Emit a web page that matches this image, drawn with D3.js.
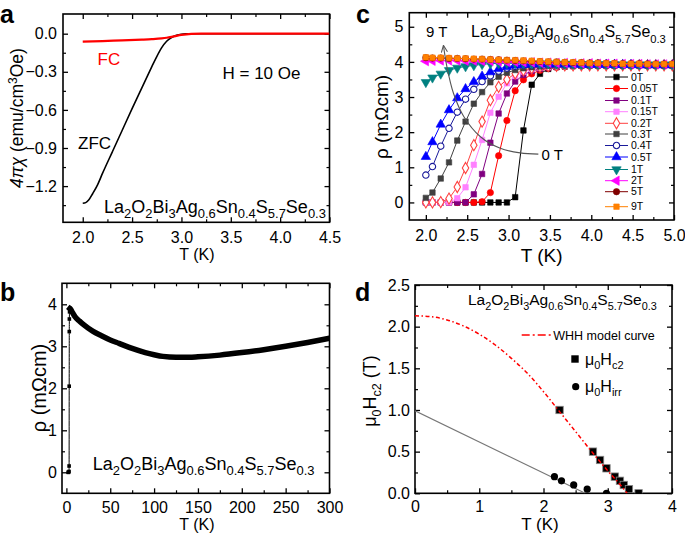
<!DOCTYPE html>
<html><head><meta charset="utf-8">
<script src="https://cdnjs.cloudflare.com/ajax/libs/d3/7.8.5/d3.min.js"></script>
<style>body{margin:0;background:#fff}svg{display:block}text{font-family:"Liberation Sans",Arial,sans-serif}</style>
</head><body><svg id="fig" width="685" height="537"></svg>
<script>
// ---------------- DATA ----------------
// panel a
const aZfcT   = [2.0,2.03,2.06,2.1,2.15,2.2,2.3,2.4,2.5,2.6,2.7,2.75,2.8,2.85,2.9,2.95,3.0,3.05,3.1,3.2,3.5,4.0,4.5];
const aZfcChi = [-1.335,-1.33,-1.31,-1.26,-1.19,-1.1,-0.93,-0.76,-0.59,-0.425,-0.26,-0.18,-0.11,-0.06,-0.03,-0.012,-0.004,-0.001,0,0,0,0,0];
const aFcT    = [2.0,2.2,2.4,2.6,2.7,2.8,2.85,2.9,2.95,3.0,3.05,3.1,3.2,3.3,3.5,4.0,4.5];
const aFcChi  = [-0.063,-0.058,-0.053,-0.047,-0.043,-0.037,-0.032,-0.025,-0.017,-0.01,-0.005,-0.002,0,0,0,0,0];
const aXTicks = [2.0,2.5,3.0,3.5,4.0,4.5];
const aXMinor = [2.25,2.75,3.25,3.75,4.25];
const aYTicks = [0,-0.3,-0.6,-0.9,-1.2];
const aYMinor = [-0.15,-0.45,-0.75,-1.05,-1.35];
// panel b
const bT    = [4,5,7,10,15,20,30,40,50,60,75,90,100,110,125,140,150,175,200,225,250,275,300];
const bRho  = [3.9,3.88,3.8,3.7,3.6,3.51,3.36,3.25,3.15,3.07,2.95,2.85,2.8,2.76,2.74,2.74,2.75,2.79,2.85,2.92,3.0,3.09,3.19];
const bTcT  = [2.0,2.5,3.0,3.1,3.2,3.3,3.4,3.6,4.0];
const bTcRho= [0,0,0.02,0.15,2.05,3.35,3.65,3.82,3.9];
const bXTicks = [0,50,100,150,200,250,300];
const bXMinor = [25,75,125,175,225,275];
const bYTicks = [0,1,2,3,4];
const bYMinor = [0.5,1.5,2.5,3.5];
// panel c
const cT = [2.0,2.08,2.18,2.28,2.38,2.48,2.58,2.68,2.78,2.88,2.98,3.08,3.18,3.28,3.38,3.48,3.58,3.68,3.78,3.88,3.98,4.08,4.18,4.28,4.38,4.48,4.58,4.68,4.78,4.88,4.98];
const cRho0T   = [0,0,0,0,0,0,0,0,0,0,0,0.15,2.05,3.35,3.66,3.8,3.85,3.87,3.88,3.89,3.9,3.9,3.9,3.9,3.9,3.9,3.9,3.9,3.9,3.9,3.9];
const cRho005T = [0,0,0,0,0,0,0,0.02,0.28,1.33,2.33,3.18,3.49,3.66,3.76,3.82,3.85,3.87,3.88,3.89,3.9,3.9,3.9,3.9,3.9,3.9,3.9,3.9,3.9,3.9,3.9];
const cRho01T  = [0,0,0,0,0,0,0.23,0.81,1.7,2.53,3.1,3.44,3.63,3.74,3.8,3.84,3.86,3.88,3.89,3.9,3.9,3.9,3.9,3.9,3.9,3.9,3.9,3.9,3.9,3.9,3.9];
const cRho015T = [0,0,0,0,0.12,0.43,1.07,1.78,2.55,3.01,3.39,3.6,3.72,3.79,3.84,3.86,3.88,3.89,3.9,3.9,3.9,3.9,3.9,3.9,3.9,3.9,3.9,3.9,3.9,3.9,3.9];
const cRho02T  = [0,0,0.01,0.11,0.44,0.98,1.63,2.3,2.91,3.29,3.5,3.67,3.76,3.82,3.86,3.88,3.89,3.9,3.9,3.9,3.9,3.9,3.9,3.9,3.9,3.9,3.9,3.9,3.9,3.9,3.9];
const cRho03T  = [0.13,0.28,0.68,1.14,1.76,2.3,2.81,3.14,3.42,3.58,3.69,3.77,3.82,3.85,3.87,3.89,3.9,3.9,3.9,3.9,3.9,3.9,3.9,3.9,3.9,3.9,3.9,3.9,3.9,3.9,3.9];
const cRho04T  = [0.78,1.02,1.6,2.11,2.57,2.94,3.22,3.44,3.6,3.74,3.82,3.87,3.9,3.91,3.92,3.92,3.92,3.92,3.92,3.92,3.92,3.92,3.92,3.91,3.91,3.91,3.91,3.91,3.91,3.91,3.91];
const cRho05T  = [1.3,1.72,2.22,2.63,2.97,3.23,3.43,3.59,3.71,3.8,3.86,3.9,3.92,3.93,3.93,3.93,3.93,3.93,3.93,3.92,3.92,3.92,3.92,3.92,3.92,3.92,3.91,3.91,3.91,3.91,3.91];
const cRho1T   = [3.42,3.55,3.66,3.76,3.83,3.87,3.9,3.93,3.95,3.96,3.96,3.96,3.96,3.95,3.95,3.95,3.94,3.94,3.94,3.93,3.93,3.93,3.93,3.93,3.92,3.92,3.92,3.92,3.92,3.92,3.92];
const cRho2T   = [4.02,4.03,4.04,4.04,4.04,4.03,4.03,4.02,4.02,4.01,4.0,4.0,3.99,3.99,3.98,3.98,3.97,3.97,3.96,3.96,3.96,3.95,3.95,3.95,3.94,3.94,3.94,3.93,3.93,3.93,3.93];
const cRho5T   = [4.12,4.11,4.11,4.1,4.1,4.09,4.08,4.08,4.07,4.06,4.05,4.04,4.03,4.02,4.01,4.0,4.0,3.99,3.98,3.98,3.97,3.97,3.96,3.96,3.95,3.95,3.95,3.94,3.94,3.94,3.94];
const cRho9T   = [4.13,4.12,4.12,4.11,4.1,4.1,4.09,4.08,4.07,4.06,4.05,4.05,4.04,4.03,4.02,4.01,4.0,3.99,3.99,3.98,3.97,3.97,3.96,3.96,3.95,3.95,3.95,3.94,3.94,3.94,3.94];
const cLabels = ["0T","0.05T","0.1T","0.15T","0.2T","0.3T","0.4T","0.5T","1T","2T","5T","9T"];
const cArrowT   = [3.36,3.14,2.9,2.66,2.46,2.335,2.255,2.214];
const cArrowRho = [1.375,1.41,1.54,1.87,2.44,3.1,3.86,4.45];
const cXTicks = [2.0,2.5,3.0,3.5,4.0,4.5,5.0];
const cXMinor = [2.25,2.75,3.25,3.75,4.25,4.75];
const cYTicks = [0,1,2,3,4,5];
const cYMinor = [0.5,1.5,2.5,3.5,4.5];
// panel d
const dWhhT  = [0,0.25,0.5,0.75,1.0,1.25,1.5,1.75,2.0,2.25,2.5,2.75,3.0,3.25,3.3];
const dWhhH  = [2.13,2.12,2.08,2.01,1.91,1.78,1.62,1.44,1.22,0.98,0.74,0.5,0.27,0.05,0];
const dHc2T  = [2.25,2.77,2.88,2.98,3.11,3.19,3.25,3.33,3.48];
const dHc2H  = [1.0,0.5,0.4,0.3,0.2,0.15,0.1,0.05,0];
const dHirrT = [2.17,2.28,2.47,2.68,2.98];
const dHirrH = [0.2,0.15,0.1,0.05,0];
const dFitT  = [0,2.65];
const dFitH  = [0.99,0];
const dXTicks = [0,1,2,3,4];
const dXMinor = [0.5,1.5,2.5,3.5];
const dYTicks = [0,0.5,1.0,1.5,2.0,2.5];
const dYMinor = [0.25,0.75,1.25,1.75,2.25];
// formula text
const formulaParts = [["La",0],["2",1],["O",0],["2",1],["Bi",0],["3",1],["Ag",0],["0.6",1],["Sn",0],["0.4",1],["S",0],["5.7",1],["Se",0],["0.3",1]];

// ---------------- DRAWING ----------------
const svg = d3.select("#fig");
svg.append("rect").attr("width",685).attr("height",537).attr("fill","#fff");

function panel(c){
  const x = d3.scaleLinear().domain(c.xd).range(c.xr);
  const y = d3.scaleLinear().domain(c.yd).range(c.yr);
  const g = svg.append("g");
  const axes = [
    [d3.axisBottom(x), c.xt, `translate(0,${c.yr[0]})`, true, c.xf, c.xpad],
    [d3.axisTop(x),    c.xt, `translate(0,${c.yr[1]})`, false],
    [d3.axisLeft(y),   c.yt, `translate(${c.xr[0]},0)`, true, c.yf, c.ypad],
    [d3.axisRight(y),  c.yt, `translate(${c.xr[1]},0)`, false]
  ];
  axes.forEach(([ax, maj, tr, lab, fmt, pad])=>{
    const ag = g.append("g").attr("transform",tr)
      .call(ax.tickValues(maj).tickSize(-5).tickSizeOuter(0).tickPadding(pad||4)
        .tickFormat(lab ? fmt : ()=>""));
    ag.select(".domain").remove();
    ag.selectAll("line").attr("stroke","#000").attr("stroke-width",1.3);
    ag.selectAll("text").attr("font-size",16).attr("font-family","Liberation Sans, Arial, sans-serif").attr("fill","#000");
  });
  [[d3.axisBottom(x), c.xm, `translate(0,${c.yr[0]})`],
   [d3.axisTop(x), c.xm, `translate(0,${c.yr[1]})`],
   [d3.axisLeft(y), c.ym, `translate(${c.xr[0]},0)`],
   [d3.axisRight(y), c.ym, `translate(${c.xr[1]},0)`]].forEach(([ax, vals, tr])=>{
    const ag = g.append("g").attr("transform",tr)
      .call(ax.tickValues(vals).tickSize(-3).tickSizeOuter(0).tickFormat(()=>""));
    ag.select(".domain").remove();
    ag.selectAll("line").attr("stroke","#000").attr("stroke-width",1.2);
  });
  g.append("rect").attr("x",c.xr[0]).attr("y",c.yr[1])
    .attr("width",c.xr[1]-c.xr[0]).attr("height",c.yr[0]-c.yr[1])
    .attr("fill","none").attr("stroke","#000").attr("stroke-width",1.6);
  const clipId = "clip"+c.id;
  svg.append("clipPath").attr("id",clipId).append("rect")
    .attr("x",c.xr[0]).attr("y",c.yr[1]).attr("width",c.xr[1]-c.xr[0]).attr("height",c.yr[0]-c.yr[1]);
  const plot = svg.append("g").attr("clip-path",`url(#${clipId})`);
  return {x,y,g,plot};
}

function formula(x, y, size, sub, shift){
  const t = svg.append("text").attr("x",x).attr("y",y).attr("font-size",size).attr("fill","#000");
  let down=false; const s = size*shift;
  formulaParts.forEach(([str,isSub])=>{
    const ts = t.append("tspan").text(str);
    if(isSub){ ts.attr("font-size",size*sub); if(!down){ts.attr("dy",s); down=true;} }
    else if(down){ ts.attr("dy",-s); down=false; }
  });
  return t;
}
function label(x,y,txt,size,opts={}){
  const t = svg.append("text").attr("x",x).attr("y",y).attr("font-size",size).attr("fill",opts.fill||"#000").text(txt);
  if(opts.anchor) t.attr("text-anchor",opts.anchor);
  if(opts.bold) t.attr("font-weight","bold");
  return t;
}
const f1 = d3.format(".1f");

// ===== Panel a =====
const A = panel({id:"a", xd:[1.8,4.5], xr:[63,329.5], yd:[-1.485,0.155], yr:[222.3,14],
  xt:aXTicks, xm:aXMinor, yt:aYTicks, ym:aYMinor, xf:f1, yf:f1, xpad:9, ypad:6});
const lineA = d3.line().x(d=>A.x(d[0])).y(d=>A.y(d[1])).curve(d3.curveMonotoneX);
A.plot.append("path").attr("d",lineA(d3.zip(aZfcT,aZfcChi))).attr("fill","none").attr("stroke","#000").attr("stroke-width",1.6);
A.plot.append("path").attr("d",lineA(d3.zip(aFcT,aFcChi))).attr("fill","none").attr("stroke","#ff0000").attr("stroke-width",2.2);
label(97.5,65,"FC",17,{fill:"#ff0000"});
label(222.5,79,"H = 10 Oe",17);
label(78,149,"ZFC",17);
formula(104,213,18,0.72,0.3);
label(197,260,"T (K)",16,{anchor:"middle"});
{
  const t = svg.append("text").attr("transform","translate(23,118) rotate(-90)").attr("text-anchor","middle").attr("font-size",17.5);
  t.append("tspan").attr("font-style","italic").text("4πχ");
  t.append("tspan").text(" (emu/cm");
  t.append("tspan").attr("font-size",12).attr("dy",-6.5).text("3");
  t.append("tspan").attr("dy",6.5).text("Oe)");
}
label(0,23,"a",25,{bold:true});

// ===== Panel b =====
const B = panel({id:"b", xd:[-5,300], xr:[62,329.5], yd:[-0.5,4.5], yr:[493.3,283.3],
  xt:bXTicks, xm:bXMinor, yt:bYTicks, ym:bYMinor, xf:d3.format("d"), yf:d3.format("d"), xpad:8, ypad:5});
const lineB = d3.line().x(d=>B.x(d[0])).y(d=>B.y(d[1])).curve(d3.curveMonotoneX);
B.plot.append("path").attr("d",lineB(d3.zip(bTcT,bTcRho))).attr("fill","none").attr("stroke","#000").attr("stroke-width",1);
B.plot.selectAll("rect.sq").data(d3.zip(bTcT,bTcRho)).join("rect")
  .attr("x",d=>B.x(d[0])-1.8).attr("y",d=>B.y(d[1])-1.8).attr("width",3.6).attr("height",3.6).attr("fill","#000");
B.plot.append("path").attr("d",lineB(d3.zip(bT,bRho))).attr("fill","none").attr("stroke","#000").attr("stroke-width",5.5).attr("stroke-linecap","square");
formula(92.7,470,18,0.72,0.3);
label(197,530,"T (K)",16,{anchor:"middle"});
svg.append("text").attr("transform","translate(46,388) rotate(-90)").attr("text-anchor","middle").attr("font-size",20).text("ρ (mΩcm)");
label(0,301,"b",25,{bold:true});

// ===== Panel c =====
const C = panel({id:"c", xd:[1.8,5.0], xr:[409.3,674], yd:[-0.5,5.4], yr:[220,12.7],
  xt:cXTicks, xm:cXMinor, yt:cYTicks, ym:cYMinor, xf:f1, yf:d3.format("d"), xpad:10, ypad:6});
const cSeries = [cRho0T,cRho005T,cRho01T,cRho015T,cRho02T,cRho03T,cRho04T,cRho05T,cRho1T,cRho2T,cRho5T,cRho9T];
const cColors = ["#000000","#ff0000","#800080","#ff80ff","#ff4040","#404040","#1a1a9a","#0000ff","#008080","#ff00ff","#800000","#ff8000"];
const cShapes = ["square","circle","square","square","diamond","square","circle","tri","tridown","trileft","circle","square"];
const cOpen   = [false,false,false,false,true,false,true,false,false,false,false,false];
function marker(sel, shape, color, open, cx, cy){
  const sym = {square:d3.symbolSquare, circle:d3.symbolCircle, diamond:d3.symbolDiamond,
               tri:d3.symbolTriangle, tridown:d3.symbolTriangle, trileft:d3.symbolTriangle}[shape];
  const size = {square:30, circle:32, diamond:36, tri:38, tridown:38, trileft:38}[shape];
  const rot = {tridown:180, trileft:-90}[shape]||0;
  sel.append("path").attr("d",d3.symbol(sym,size)())
    .attr("transform",`translate(${cx},${cy}) rotate(${rot})`)
    .attr("fill",open?"#fff":color).attr("stroke",color).attr("stroke-width",open?1.1:0.6);
}
const lineC = d3.line().x(d=>C.x(d[0])).y(d=>C.y(d[1]));
cSeries.forEach((vals,i)=>{
  const pts = d3.zip(cT, vals);
  C.plot.append("path").attr("d",lineC(pts)).attr("fill","none").attr("stroke",cColors[i]).attr("stroke-width",1);
  pts.forEach(p=>marker(C.plot, cShapes[i], cColors[i], cOpen[i], C.x(p[0]), C.y(p[1])));
});
const cLegY = [77,88.5,100.5,111.7,123.3,134,145.5,157,169.5,180.7,191.7,206.7];
cLabels.forEach((lab,i)=>{
  svg.append("line").attr("x1",605).attr("x2",628).attr("y1",cLegY[i]).attr("y2",cLegY[i]).attr("stroke",cColors[i]).attr("stroke-width",1);
  marker(svg, cShapes[i], cColors[i], cOpen[i], 616.5, cLegY[i]);
  label(631, cLegY[i]+3.7, lab, 10.5);
});
svg.append("defs").append("marker").attr("id","arr").attr("viewBox","0 0 10 10").attr("refX",8).attr("refY",5)
  .attr("markerWidth",7).attr("markerHeight",7).attr("orient","auto")
  .append("path").attr("d","M0,1 L9,5 L0,9").attr("fill","none").attr("stroke","#555").attr("stroke-width",1.4);
svg.append("path").attr("d",d3.line().x(d=>C.x(d[0])).y(d=>C.y(d[1])).curve(d3.curveCatmullRom)(d3.zip(cArrowT,cArrowRho)))
  .attr("fill","none").attr("stroke","#555").attr("stroke-width",1.1).attr("marker-end","url(#arr)");
label(426,37,"9 T",15);
label(541.5,160,"0 T",15);
formula(471,37,16,0.7,0.35);
label(541.7,262,"T (K)",19,{anchor:"middle"});
svg.append("text").attr("transform","translate(388,117) rotate(-90)").attr("text-anchor","middle").attr("font-size",19).text("ρ (mΩcm)");
label(356,23,"c",25,{bold:true});

// ===== Panel d =====
const D = panel({id:"d", xd:[0,4], xr:[415,672], yd:[0,2.5], yr:[493.3,285],
  xt:dXTicks, xm:dXMinor, yt:dYTicks, ym:dYMinor, xf:d3.format("d"), yf:f1, xpad:7, ypad:5});
const lineD = d3.line().x(d=>D.x(d[0])).y(d=>D.y(d[1]));
D.plot.append("path").attr("d",lineD(d3.zip(dFitT,dFitH))).attr("stroke","#777").attr("stroke-width",1.2).attr("fill","none");
D.plot.selectAll("rect.hc2").data(d3.zip(dHc2T,dHc2H)).join("rect")
  .attr("x",d=>D.x(d[0])-3.7).attr("y",d=>D.y(d[1])-3.7).attr("width",7.4).attr("height",7.4)
  .attr("fill","#000").attr("stroke","#888").attr("stroke-width",0.8);
D.plot.selectAll("circle.hirr").data(d3.zip(dHirrT,dHirrH)).join("circle")
  .attr("cx",d=>D.x(d[0])).attr("cy",d=>D.y(d[1])).attr("r",3.6).attr("fill","#000");
D.plot.append("path").attr("d",lineD.curve(d3.curveMonotoneX)(d3.zip(dWhhT,dWhhH))).attr("fill","none")
  .attr("stroke","#ff0000").attr("stroke-width",1.5).attr("stroke-dasharray","4,2.5,1.5,2.5");
svg.append("line").attr("x1",521.7).attr("x2",551.7).attr("y1",335).attr("y2",335).attr("stroke","#ff0000").attr("stroke-width",1.5).attr("stroke-dasharray","8,3,2,3");
label(553.3,339.5,"WHH model curve",12.5);
svg.append("rect").attr("x",575-3.7).attr("y",359-3.7).attr("width",7.4).attr("height",7.4).attr("fill","#000");
svg.append("circle").attr("cx",575.7).attr("cy",386.7).attr("r",3.6).attr("fill","#000");
{
  const t1 = svg.append("text").attr("x",585).attr("y",365).attr("font-size",16);
  t1.append("tspan").text("μ"); t1.append("tspan").attr("font-size",11).attr("dy",4).text("0");
  t1.append("tspan").attr("dy",-4).text("H"); t1.append("tspan").attr("font-size",11).attr("dy",4).text("c2");
  const t2 = svg.append("text").attr("x",585).attr("y",392).attr("font-size",16);
  t2.append("tspan").text("μ"); t2.append("tspan").attr("font-size",11).attr("dy",4).text("0");
  t2.append("tspan").attr("dy",-4).text("H"); t2.append("tspan").attr("font-size",11).attr("dy",4).text("irr");
  const t3 = svg.append("text").attr("transform","translate(376,391) rotate(-90)").attr("text-anchor","middle").attr("font-size",18);
  t3.append("tspan").text("μ"); t3.append("tspan").attr("font-size",12.5).attr("dy",5).text("0");
  t3.append("tspan").attr("dy",-5).text("H"); t3.append("tspan").attr("font-size",12.5).attr("dy",5).text("c2");
  t3.append("tspan").attr("dy",-5).text(" (T)");
}
formula(468,305,15.5,0.7,0.35);
label(540,530,"T (K)",17,{anchor:"middle"});
label(355,301,"d",25,{bold:true});
</script></body></html>
